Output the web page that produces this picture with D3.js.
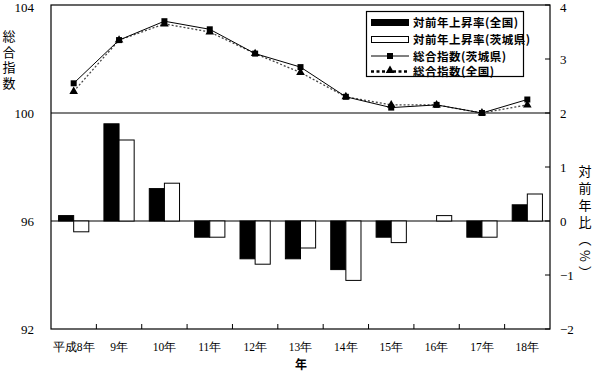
<!DOCTYPE html>
<html><head><meta charset="utf-8">
<script src="https://cdn.jsdelivr.net/npm/d3@7/dist/d3.min.js"></script>
<style>body{margin:0;background:#fff}</style>
</head><body><svg id="c" width="596" height="371"></svg>
<script>
const categories = ["平成8年","9年","10年","11年","12年","13年","14年","15年","16年","17年","18年"];
const rateNational = [0.1, 1.8, 0.6, -0.3, -0.7, -0.7, -0.9, -0.3, 0.0, -0.3, 0.3];
const rateIbaraki  = [-0.2, 1.5, 0.7, -0.3, -0.8, -0.5, -1.1, -0.4, 0.1, -0.3, 0.5];
const indexIbaraki  = [101.1, 102.7, 103.4, 103.1, 102.2, 101.7, 100.6, 100.2, 100.3, 100.0, 100.5];
const indexNational = [100.8, 102.7, 103.3, 103.0, 102.2, 101.5, 100.6, 100.3, 100.3, 100.0, 100.3];
const leftTicks = [92, 96, 100, 104];
const rightTicks = [-2, -1, 0, 1, 2, 3, 4];
const legendLabels = ["対前年上昇率(全国)","対前年上昇率(茨城県)","総合指数(茨城県)","総合指数(全国)"];

const svg = d3.select("#c");
const L = 51, R = 550, T = 5, B = 329;
const x = d3.scaleBand().domain(categories).range([L, R]).padding(0);
const xs = d3.scaleBand().domain(["n","i"]).range([0, x.bandwidth()]).paddingOuter(0.5).paddingInner(0);
const yL = d3.scaleLinear().domain([92, 104]).range([B, T]);
const yR = d3.scaleLinear().domain([-2, 4]).range([B, T]);
const serif = "'Liberation Serif','DejaVu Serif',serif";
const cjk = "'Noto Sans CJK JP','Noto Sans',sans-serif";

// gridlines
[100, 96].forEach(v => svg.append("line").attr("x1", L).attr("x2", R)
  .attr("y1", yL(v)).attr("y2", yL(v)).attr("stroke", "#000").attr("stroke-width", 1.2));

// bars
const g = svg.append("g");
categories.forEach((c, i) => {
  [["n", rateNational[i], "#000"], ["i", rateIbaraki[i], "#fff"]].forEach(([k, v, f]) => {
    if (v === 0) return;
    const y0 = yR(0), y1 = yR(v);
    g.append("rect").attr("x", x(c) + xs(k)).attr("width", xs.bandwidth())
      .attr("y", Math.min(y0, y1)).attr("height", Math.abs(y1 - y0))
      .attr("fill", f).attr("stroke", "#000").attr("stroke-width", 1);
  });
});

// lines
const cx = c => x(c) + x.bandwidth() / 2;
const lineN = d3.line().x((d, i) => cx(categories[i])).y(d => yL(d));
svg.append("path").attr("d", lineN(indexNational)).attr("fill", "none")
  .attr("stroke", "#444").attr("stroke-width", 1.3).attr("stroke-dasharray", "2,2");
svg.append("path").attr("d", lineN(indexIbaraki)).attr("fill", "none")
  .attr("stroke", "#000").attr("stroke-width", 1);
const tri = d3.symbol().type(d3.symbolTriangle).size(32);
const sq = d3.symbol().type(d3.symbolSquare).size(36);
indexNational.forEach((v, i) => svg.append("path").attr("d", tri)
  .attr("transform", `translate(${cx(categories[i])},${yL(v)})`).attr("fill", "#000"));
indexIbaraki.forEach((v, i) => svg.append("path").attr("d", sq)
  .attr("transform", `translate(${cx(categories[i])},${yL(v)})`).attr("fill", "#000"));

// frame
svg.append("rect").attr("x", L).attr("y", T).attr("width", R - L).attr("height", B - T)
  .attr("fill", "none").attr("stroke", "#000").attr("stroke-width", 1.2);

// x ticks at boundaries
categories.slice(1).forEach(c => svg.append("line").attr("x1", x(c)).attr("x2", x(c))
  .attr("y1", B).attr("y2", B - 5).attr("stroke", "#000"));

// right ticks
rightTicks.forEach(v => svg.append("line").attr("x1", R).attr("x2", R - 5)
  .attr("y1", yR(v)).attr("y2", yR(v)).attr("stroke", "#000"));

// left tick labels
leftTicks.forEach(v => svg.append("text").attr("x", 34).attr("y", Math.max(yL(v) + 4.5, 12))
  .attr("text-anchor", "end").attr("font-family", serif).attr("font-size", 13).text(v));
// right tick labels
rightTicks.forEach(v => svg.append("text").attr("x", 560).attr("y", Math.max(yR(v) + 4.5, 12))
  .attr("font-family", serif).attr("font-size", 13).text(v < 0 ? "\u2212" + (-v) : v));
// x labels
categories.forEach(c => svg.append("text").attr("x", cx(c)).attr("y", 351)
  .attr("text-anchor", "middle").attr("font-family", serif).attr("font-size", 11.5).text(c));
svg.append("text").attr("x", 301).attr("y", 368.5).attr("text-anchor", "middle")
  .attr("font-family", cjk).attr("font-weight", "bold").attr("font-size", 12).text("年");

// vertical titles
svg.append("text").attr("x", 9).attr("y", 30)
  .attr("writing-mode", "vertical-rl").attr("font-family", cjk).attr("font-size", 13)
  .attr("letter-spacing", 2.5).text("総合指数");
svg.append("text").attr("x", 585).attr("y", 165)
  .attr("writing-mode", "vertical-rl").attr("font-family", cjk).attr("font-size", 13)
  .attr("letter-spacing", 4).text("対前年比（%）");

// legend
const lg = svg.append("g");
lg.append("rect").attr("x", 366.5).attr("y", 11.5).attr("width", 157).attr("height", 65)
  .attr("fill", "#fff").attr("stroke", "#000").attr("stroke-width", 1.2);
const ly = [22.5, 39.5, 56, 71.5];
lg.append("rect").attr("x", 371).attr("y", ly[0] - 3.5).attr("width", 38).attr("height", 7).attr("fill", "#000");
lg.append("rect").attr("x", 371.5).attr("y", ly[1] - 3).attr("width", 37).attr("height", 6).attr("fill", "#fff").attr("stroke", "#000");
lg.append("line").attr("x1", 371).attr("x2", 409).attr("y1", ly[2]).attr("y2", ly[2]).attr("stroke", "#000");
lg.append("path").attr("d", sq).attr("transform", `translate(390,${ly[2]})`);
lg.append("line").attr("x1", 371).attr("x2", 409).attr("y1", ly[3]).attr("y2", ly[3]).attr("stroke", "#000")
  .attr("stroke-width", 2.5).attr("stroke-dasharray", "3,2.5");
lg.append("path").attr("d", tri).attr("transform", `translate(390,${ly[3] - 1})`);
legendLabels.forEach((t, i) => lg.append("text").attr("x", 413).attr("y", ly[i] + 4.5)
  .attr("font-family", cjk).attr("font-weight", "bold").attr("font-size", 11.5)
  .attr("letter-spacing", 0.5).text(t));
</script></body></html>
